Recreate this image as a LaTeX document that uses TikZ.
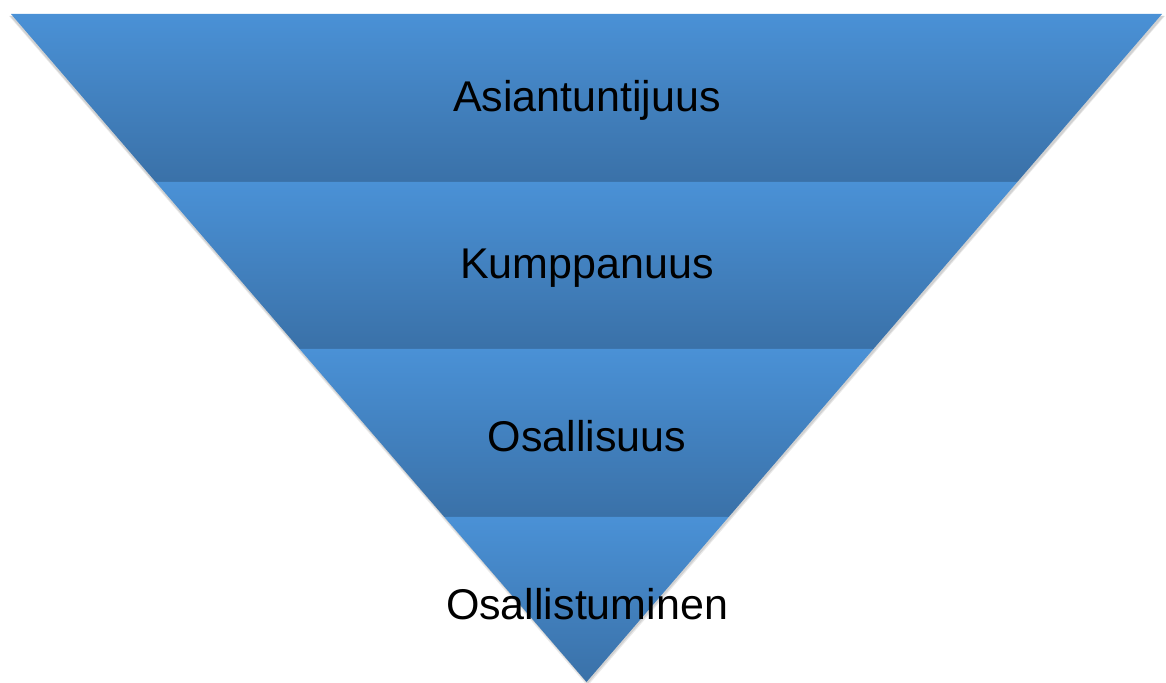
\documentclass[tikz,border=0pt]{standalone}
\usepackage{fontspec}
\setmainfont{Liberation Sans}
\definecolor{bandtop}{HTML}{4A91D6}
\definecolor{bandbot}{HTML}{3A71A8}
\begin{document}
\begin{tikzpicture}[x=1pt,y=1pt,
  lbl/.style={font=\fontsize{43}{50}\selectfont, text=black, inner sep=0pt},
  band/.style={top color=bandtop, bottom color=bandbot}]
\useasboundingbox (0,0) rectangle (1166,682);
\def\ax{586.5}
\pgfmathsetmacro{\k}{575.5/668}
% soft drop shadow
\fill[black!35, opacity=0.25] (9,666) -- (1165,666) -- (\ax+1,-4) -- cycle;
\fill[black!35, opacity=0.35] (10,666) -- (1164,666) -- (\ax+1,-2) -- cycle;
% bands
\foreach \lo/\hi in {500/668,333/500,165/333,0/165}{
  \pgfmathsetmacro{\wl}{\k*\lo}
  \pgfmathsetmacro{\wh}{\k*\hi}
  \shade[band] (\ax-\wh,\hi) -- (\ax+\wh,\hi) -- (\ax+\wl,\lo) -- (\ax-\wl,\lo) -- cycle;
}
\node[lbl] (n1) at (587,582) {Asiantuntijuus};
\node[lbl] (n2) at (587,414) {Kumppanuus};
\node[lbl] (n3) at (587,246) {Osallisuus};
\node[lbl] (n4) at (587,78) {Osallistuminen};
\end{tikzpicture}
\end{document}
